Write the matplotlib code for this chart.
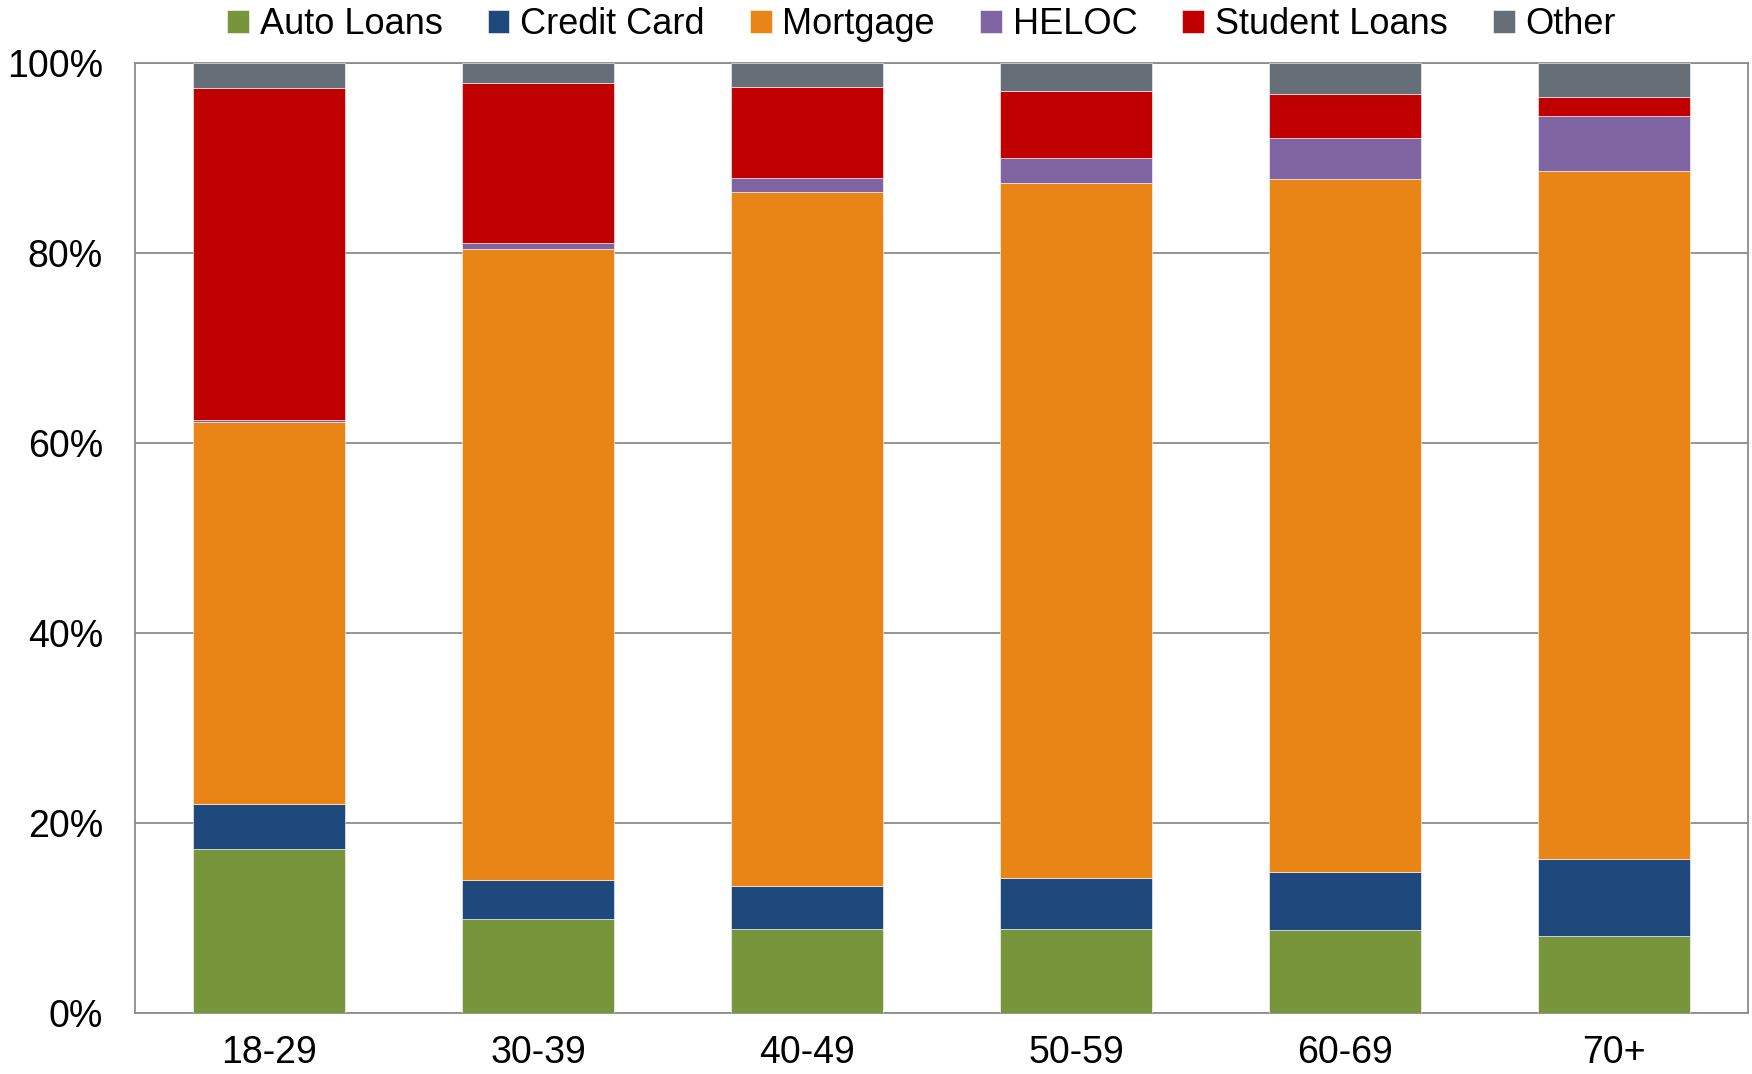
import numpy as np
import matplotlib.pyplot as plt
from matplotlib.ticker import FuncFormatter

plt.rcParams["font.family"] = ["Liberation Sans", "DejaVu Sans"]

age_groups = ["18-29", "30-39", "40-49", "50-59", "60-69", "70+"]

# share of total debt, percent
auto_loans = [17.3, 9.9, 8.8, 8.8, 8.7, 8.1]
credit_card = [4.7, 4.1, 4.6, 5.4, 6.1, 8.1]
mortgage = [40.2, 66.5, 73.0, 73.2, 73.0, 72.5]
heloc = [0.2, 0.6, 1.5, 2.6, 4.3, 5.8]
student_loans = [35.0, 16.8, 9.6, 7.1, 4.7, 2.0]
other = [2.6, 2.1, 2.5, 2.9, 3.2, 3.5]

series = [
    ("Auto Loans", auto_loans, "#77963B"),
    ("Credit Card", credit_card, "#1F497D"),
    ("Mortgage", mortgage, "#E98517"),
    ("HELOC", heloc, "#8064A2"),
    ("Student Loans", student_loans, "#C00000"),
    ("Other", other, "#666E77"),
]

fig = plt.figure(figsize=(17.52, 10.74), dpi=100)
ax = fig.add_axes([0.077, 0.057, 0.921, 0.884])

x = np.arange(len(age_groups))
bottom = np.zeros(len(age_groups))
for name, vals, color in series:
    vals = np.array(vals)
    ax.bar(x, vals, width=0.565, bottom=bottom, color=color, label=name,
           edgecolor="white", linewidth=0.4, zorder=3)
    bottom += vals

ax.set_xlim(-0.5, len(age_groups) - 0.5)
ax.set_ylim(0, 100)
ax.set_yticks(np.arange(0, 101, 20))
ax.yaxis.set_major_formatter(FuncFormatter(lambda v, p: f"{v:.0f}%"))
ax.set_xticks(x)
ax.set_xticklabels(age_groups)

ax.grid(axis="y", color="#8c8c8c", lw=1.3, zorder=0)
for s in ax.spines.values():
    s.set_color("#8c8c8c")
    s.set_linewidth(1.3)

ax.tick_params(axis="y", length=0, pad=23, labelsize=27)
ax.tick_params(axis="x", length=0, pad=16, labelsize=27)

fig.legend(loc="center", bbox_to_anchor=(0.526, 0.977), ncol=6, frameon=False,
           fontsize=26, handlelength=0.6, handleheight=0.6, handletextpad=0.3,
           columnspacing=1.25, borderaxespad=0)

fig.savefig("out.png", dpi=100)
